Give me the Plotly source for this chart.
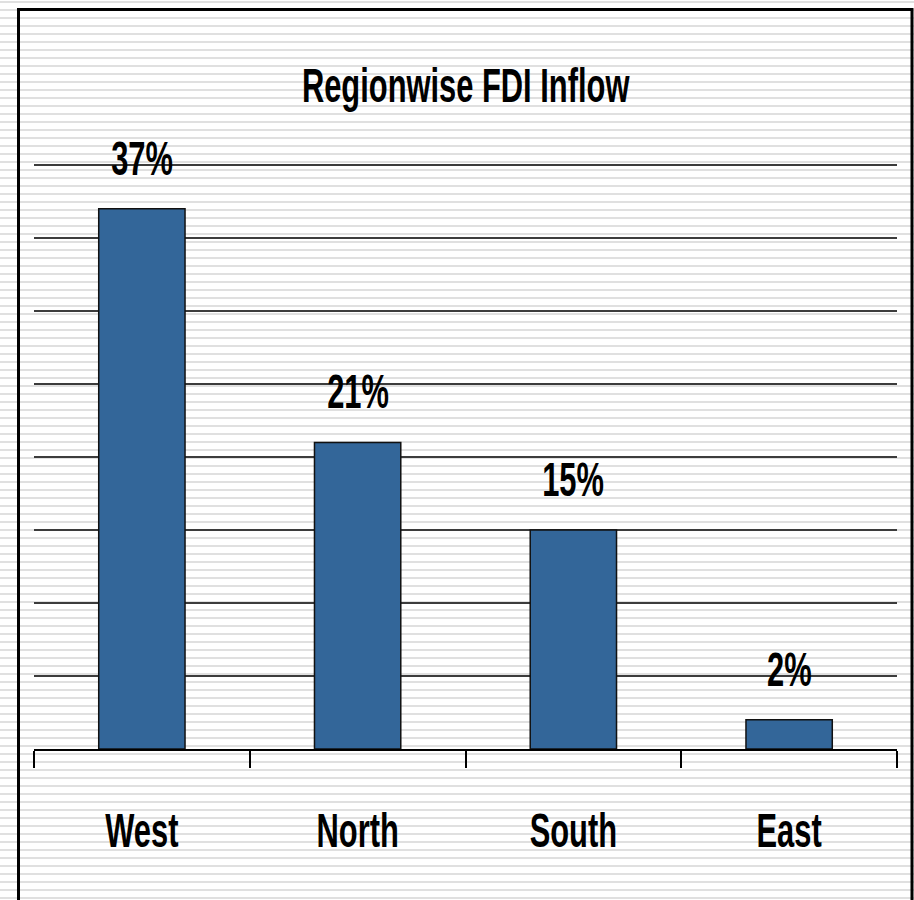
import plotly.graph_objects as go

regions = ["West", "North", "South", "East"]
shares = [37, 21, 15, 2]
title_text = "Regionwise FDI Inflow"

W, H = 914, 900
YMAX = 40 * 590 / 584
L, R, T, B = 34, 17, 159, 151
PW, PH = W - L - R, H - T - B

FONT = "Liberation Sans, Arial, sans-serif"
FS = 49
SQUEEZE = 0.63

def px_x(px):
    return (px - L) / PW

def px_y(py):
    return (H - B - py) / PH

fig = go.Figure()
fig.add_trace(go.Bar(
    x=regions, y=shares,
    marker=dict(color="#336699", line=dict(color="#111111", width=1.5)),
    width=0.4, hoverinfo="skip",
))

for r, v in zip(regions, shares):
    fig.add_annotation(x=r, y=v, text=f"{v}%", showarrow=False, yanchor="bottom",
                       yshift=22, font=dict(family=FONT, size=FS, color="#000000", weight="bold"))

segs = []
for k in range(0, 115):
    yy = 8 * k + 2
    segs.append(f"M{px_x(-5):.5f},{px_y(yy):.5f} H{px_x(W + 5):.5f}")
shapes = [
    dict(type="path", xref="paper", yref="paper", path=" ".join(segs),
         line=dict(color="#e0e0e0", width=2), layer="below"),
    dict(type="rect", xref="paper", yref="paper",
         x0=px_x(18.5), x1=px_x(912), y0=px_y(9.5), y1=px_y(915),
         line=dict(color="#000000", width=3), fillcolor="rgba(0,0,0,0)", layer="above"),
]

fig.update_layout(
    width=W, height=H,
    margin=dict(l=L, r=R, t=T, b=B, pad=0),
    paper_bgcolor="#ffffff", plot_bgcolor="rgba(0,0,0,0)",
    showlegend=False,
    shapes=shapes,
    title=dict(text=title_text, x=465.5 / W, xanchor="center",
               y=1 - 85 / H, yanchor="middle",
               font=dict(family=FONT, size=FS, color="#000000", weight="bold")),
    xaxis=dict(showline=True, linecolor="#000000", linewidth=1.5,
               ticks="outside", ticklen=17, tickwidth=1.5, tickcolor="#000000",
               tickson="boundaries", showgrid=False, ticklabelstandoff=37,
               tickfont=dict(family=FONT, size=FS, color="#000000", weight="bold")),
    yaxis=dict(range=[0, YMAX], dtick=5, showticklabels=False, showline=False,
               showgrid=True, gridcolor="#3c3c3c", gridwidth=1.5, zeroline=False,
               ticks=""),
)

# narrow the bold sans text horizontally to mimic the condensed face of the original
post = """
var gd = document.getElementById('{plot_id}');
gd.querySelectorAll('text').forEach(function(t){
  var bb = t.getBBox();
  var cx = bb.x + bb.width / 2;
  var prev = t.getAttribute('transform') || '';
  t.setAttribute('transform', prev + ' translate(' + cx + ',0) scale(%s,1) translate(' + (-cx) + ',0)');
});
""" % SQUEEZE

fig.write_html("out.html", config={"displayModeBar": False}, post_script=post)
